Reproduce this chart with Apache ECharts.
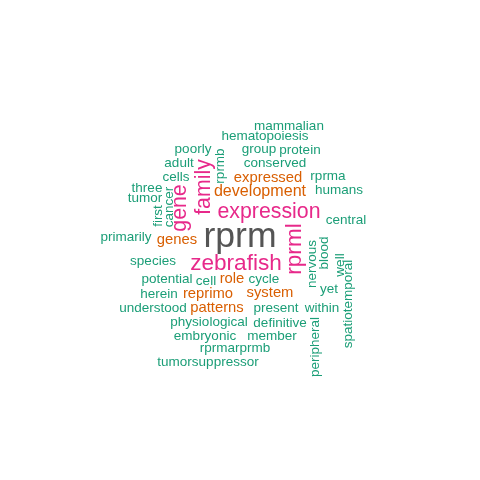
<!DOCTYPE html>
<html>
<head>
<meta charset="utf-8">
<script src="https://cdn.jsdelivr.net/npm/echarts@6/dist/echarts.min.js"></script>
<style>
  html, body { margin: 0; padding: 0; background: #fff; }
  #chart { width: 480px; height: 480px; }
</style>
</head>
<body>
<div id="chart"></div>
<script type="text/javascript">
// word cloud: words, their counts and where each one sits in the 480x480 picture
var words = ['mammalian', 'hematopoiesis', 'poorly', 'group', 'protein', 'rprmb', 'adult', 'conserved',
  'family', 'cells', 'expressed', 'rprma', 'three', 'tumor', 'development', 'humans', 'cancer', 'first',
  'gene', 'expression', 'central', 'primarily', 'genes', 'rprm', 'rprml', 'species', 'zebrafish',
  'nervous', 'blood', 'well', 'spatiotemporal', 'potential', 'cell', 'role', 'cycle', 'yet', 'herein',
  'reprimo', 'system', 'understood', 'patterns', 'present', 'within', 'physiological', 'definitive',
  'peripheral', 'embryonic', 'member', 'rprmarprmb', 'tumorsuppressor'];
var freq = [3, 3, 3, 3, 3, 3, 3, 3,
  9, 3, 4, 3, 3, 3, 5, 3, 3, 3,
  9, 9, 3, 3, 4, 20, 10, 3, 10,
  3, 3, 3, 3, 3, 3, 4, 3, 3, 3,
  4, 4, 3, 4, 3, 3, 3, 3,
  3, 3, 3, 3, 3];
var wx = [289, 265, 193, 259, 300, 220, 179, 275,
  204, 176, 268, 328, 147, 145, 260, 339, 169, 158,
  180, 269, 346, 126, 177, 240, 295, 153, 236,
  312, 324, 340, 348, 167, 206, 232, 264, 329, 159,
  208, 270, 153, 217, 276, 322, 209, 280,
  315, 205, 272, 235, 208];
var wy = [126, 136, 149, 149, 150, 166, 163, 163,
  187, 177, 178, 176, 188, 198, 192, 190, 207, 216,
  208, 212, 220, 237, 240, 237, 249, 261, 264,
  264, 253, 265, 304, 279, 281, 279, 279, 289, 294,
  294, 293, 308, 308, 308, 308, 322, 323,
  347, 336, 336, 348, 362];
// these read bottom-to-top
var vertical = ['rprmb', 'family', 'cancer', 'first', 'gene', 'rprml', 'nervous', 'blood', 'well',
  'spatiotemporal', 'peripheral'];

function sizeOf(f) { return 9.6 + 1.3 * f; }
function colorOf(f) {
  if (f >= 15) return '#555555';
  if (f >= 8) return '#E7298A';
  if (f >= 4) return '#D95F02';
  return '#1B9E77';
}

var points = words.map(function (w, i) {
  return {
    name: w,
    value: [wx[i], wy[i], freq[i]],
    label: {
      fontSize: sizeOf(freq[i]),
      color: colorOf(freq[i]),
      rotate: vertical.indexOf(w) >= 0 ? 90 : 0
    }
  };
});

var myChart = echarts.init(document.getElementById('chart'));
var option = {
  animation: false,
  backgroundColor: '#ffffff',
  grid: { left: 0, right: 0, top: 0, bottom: 0 },
  xAxis: { type: 'value', min: 0, max: 480, show: false },
  yAxis: { type: 'value', min: 0, max: 480, inverse: true, show: false },
  series: [{
    type: 'scatter',
    symbolSize: 0,
    itemStyle: { color: 'rgba(0,0,0,0)', opacity: 1 },
    label: {
      show: true,
      position: 'inside',
      formatter: '{b}',
      opacity: 1,
      fontFamily: '"Liberation Sans", Arial, sans-serif',
      align: 'center',
      verticalAlign: 'middle'
    },
    data: points
  }]
};
myChart.setOption(option);
</script>
</body>
</html>
